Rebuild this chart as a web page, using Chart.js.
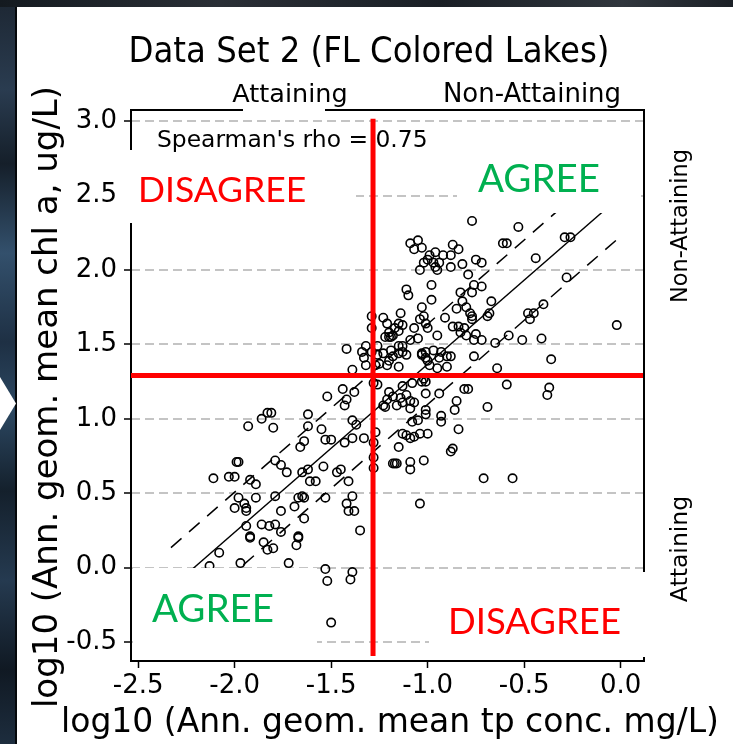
<!DOCTYPE html>
<html>
<head>
<meta charset="utf-8">
<title>Data Set 2 (FL Colored Lakes)</title>
<script src="https://cdn.jsdelivr.net/npm/chart.js@4.4.0/dist/chart.umd.min.js"></script>
<style>
  html, body { margin: 0; padding: 0; }
  body { width: 733px; height: 744px; overflow: hidden; position: relative; background: #fff; }
  .side {
    position: absolute; left: 0; top: 0; width: 15px; height: 744px;
    background: linear-gradient(180deg, #1d2733 0%, #2a3c50 12%, #151f2a 22%, #33506c 34%, #1e3044 46%,
                #2c4862 55%, #14202c 66%, #253a50 78%, #101923 90%, #1d2d3e 100%);
    border-right: 2px solid #05080b;
  }
  .topband {
    position: absolute; left: 0; top: 0; width: 733px; height: 7px;
    background: linear-gradient(90deg, #141a20 0%, #2a2f36 30%, #1a1f25 60%, #30363d 85%, #1c2127 100%);
  }
  .arrow {
    position: absolute; left: 0; top: 377px; width: 16px; height: 53px; background: #fff;
    clip-path: polygon(0 0, 100% 50%, 0 100%);
  }
  canvas { position: absolute; left: 0; top: 0; }
</style>
</head>
<body>
<div class="side"></div>
<div class="topband"></div>
<div class="arrow"></div>
<canvas id="myChart1" width="733" height="744"></canvas>
<script>
// log10 annual geometric mean TP (mg/L) for each lake-year
var tpLog = [
  -0.77, -0.53, -0.61, -0.59, -0.29, -0.26, -1.09, -1.05, -1.03, -1.07,
  -0.87, -0.84, -0.96, -0.99, -0.92, -0.88, -1.00, -1.02, -0.97, -0.94,
  -0.96, -0.95, -0.88, -1.04, -0.82, -0.75, -0.72, -0.79, -0.44, -0.98,
  -1.11, -1.10, -0.76, -0.72, -0.77, -0.28, -0.98, -1.03, -0.83, -0.82,
  -0.80, -0.85, -0.67, -0.68, -0.69, -0.78, -0.77, -0.77, -0.91, -1.02,
  -1.04, -1.14, -1.29, -1.23, -1.21, -1.01, -1.07, -1.00, -1.15, -1.13,
  -1.17, -1.20, -1.18, -1.20, -1.19, -1.22, -1.15, -0.95, -1.09, -1.05,
  -0.87, -0.84, -0.81, -0.83, -0.80, -0.76, -0.75, -0.72, -0.65, -1.42,
  -1.34, -1.26, -1.23, -1.19, -1.15, -1.13, -1.03, -0.97, -0.93, -0.88,
  -0.76, -1.29, -1.32, -1.33, -1.32, -1.39, -1.18, -1.15, -1.13, -1.11,
  -1.25, -1.21, -1.15, -1.20, -1.03, -1.01, -1.00, -0.99, -1.01, -0.94,
  -0.90, -0.95, -0.90, -0.64, -1.44, -1.42, -1.38, -1.28, -1.26, -1.13,
  -1.08, -1.20, -1.18, -1.21, -1.14, -1.11, -1.16, -1.13, -1.09, -1.07,
  -1.23, -1.22, -1.03, -1.01, -1.02, -0.94, -1.01, -1.09, -1.01, -0.85,
  -0.86, -0.81, -0.79, -0.69, -0.93, -0.93, -1.04, -1.00, -1.09, -1.11,
  -1.07, -1.13, -1.08, -0.84, -1.39, -1.43, -1.39, -1.33, -1.27, -1.15,
  -0.87, -0.88, -1.18, -1.17, -1.16, -1.09, -1.09, -1.02, -0.71, -1.28,
  -1.28, -1.45, -1.28, -1.04, -0.56, -1.35, -0.48, -0.45, -0.47, -0.40,
  -0.02, -0.58, -0.51, -0.41, -0.36, -0.59, -0.37, -0.38, -1.52, -1.43,
  -1.62, -1.83, -1.81, -1.86, -1.93, -1.80, -1.62, -1.55, -1.37, -1.53,
  -1.50, -1.64, -1.66, -1.99, -1.98, -1.79, -1.76, -1.73, -1.65, -1.62,
  -1.54, -1.47, -1.41, -1.39, -1.42, -1.41, -1.38, -2.11, -2.03, -2.00,
  -1.92, -1.89, -1.98, -1.89, -1.79, -2.00, -1.95, -1.94, -1.94, -1.67,
  -1.65, -1.64, -1.69, -1.76, -1.53, -1.94, -1.86, -1.82, -1.79, -1.76,
  -1.64, -1.92, -1.92, -1.85, -1.83, -1.80, -1.67, -1.67, -1.68, -2.08,
  -2.13, -1.97, -1.72, -1.53, -1.52, -1.39, -1.40, -1.50, -1.61, -1.58,
  -1.29, -1.26, -1.27, -1.05, -1.01
];
// log10 annual geometric mean chl a (ug/L), same order
var chlLog = [
  2.33, 2.29, 2.18, 2.18, 2.22, 2.22, 2.18, 2.20, 2.15, 2.14,
  2.17, 2.14, 2.12, 2.10, 2.10, 2.10, 2.07, 2.05, 2.05, 2.05,
  2.02, 2.00, 2.02, 2.00, 2.04, 2.07, 2.05, 1.97, 2.08, 1.90,
  1.87, 1.83, 1.90, 1.89, 1.85, 1.95, 1.80, 1.75, 1.85, 1.79,
  1.75, 1.74, 1.79, 1.71, 1.69, 1.71, 1.69, 1.67, 1.68, 1.69,
  1.67, 1.71, 1.69, 1.68, 1.64, 1.64, 1.61, 1.61, 1.64, 1.63,
  1.61, 1.58, 1.56, 1.55, 1.55, 1.55, 1.59, 1.56, 1.53, 1.54,
  1.62, 1.62, 1.61, 1.58, 1.56, 1.53, 1.57, 1.53, 1.51, 1.47,
  1.45, 1.49, 1.44, 1.46, 1.49, 1.49, 1.44, 1.46, 1.45, 1.42,
  1.42, 1.61, 1.49, 1.41, 1.36, 1.33, 1.42, 1.44, 1.45, 1.43,
  1.37, 1.36, 1.35, 1.39, 1.43, 1.45, 1.39, 1.36, 1.41, 1.41,
  1.35, 1.34, 1.42, 1.34, 1.20, 1.13, 1.18, 1.24, 1.23, 1.22,
  1.24, 1.18, 1.15, 1.13, 1.14, 1.16, 1.09, 1.11, 1.12, 1.11,
  1.09, 1.08, 1.25, 1.25, 1.27, 1.17, 1.17, 1.07, 1.06, 1.12,
  1.06, 1.20, 1.20, 1.08, 1.02, 0.98, 0.90, 0.90, 0.87, 0.89,
  0.88, 0.90, 0.98, 0.93, 0.99, 0.84, 0.87, 0.87, 0.91, 0.81,
  0.80, 0.78, 0.70, 0.70, 0.70, 0.71, 0.66, 0.72, 0.60, 0.67,
  0.74, 0.66, 0.84, 0.43, 0.60, 0.25, 1.71, 1.71, 1.67, 1.77,
  1.63, 1.56, 1.53, 1.54, 1.40, 1.23, 1.21, 1.16, 1.15, 1.09,
  1.03, 1.04, 1.04, 1.00, 0.95, 0.94, 0.95, 0.93, 0.96, 0.86,
  0.86, 0.85, 0.81, 0.71, 0.71, 0.72, 0.69, 0.64, 0.64, 0.66,
  0.68, 0.64, 0.58, 0.48, 0.43, 0.38, 0.38, 0.60, 0.61, 0.61,
  0.59, 0.56, 0.47, 0.47, 0.48, 0.40, 0.43, 0.40, 0.38, 0.47,
  0.48, 0.47, 0.41, 0.38, 0.47, 0.28, 0.29, 0.28, 0.29, 0.24,
  0.33, 0.21, 0.20, 0.17, 0.12, 0.13, 0.21, 0.20, 0.15, 0.10,
  0.01, 0.03, 0.03, -0.01, -0.09, -0.03, -0.08, -0.37, 0.58, 0.58,
  1.45, 1.43, 1.36, 0.99, 1.03
];

var xTicks = [-2.5, -2.0, -1.5, -1.0, -0.5, 0.0];
var yTicks = [-0.5, 0.0, 0.5, 1.0, 1.5, 2.0, 2.5, 3.0];

// fitted line with its upper and lower band
var fitIntercept = 2.497;
var fitSlope = 1.13;
var fitBand = 0.27;
var fitRange = [-2.33, -0.02];

// criteria (log10 TP, log10 chl a)
var tpLimit = -1.283;
var chlLimit = 1.291;
var rho = 0.75;

var points = tpLog.map(function (v, i) { return {x: v, y: chlLog[i]}; });
function fitLine(offset) {
  return fitRange.map(function (v) { return {x: v, y: fitIntercept + fitSlope * v + offset}; });
}

var FONT = '"DejaVu Sans", sans-serif';
var BIG = 'Lato, "DejaVu Sans", sans-serif';

function text(ctx, str, x, y, font, color, align, angle) {
  ctx.save();
  ctx.translate(x, y);
  if (angle) ctx.rotate(angle);
  ctx.font = font;
  ctx.fillStyle = color || '#000';
  ctx.textAlign = align || 'left';
  ctx.textBaseline = 'alphabetic';
  ctx.fillText(str, 0, 0);
  ctx.restore();
}

// frame, white label patches, quadrant labels and criteria lines
var quadrants = {
  id: 'quadrants',
  afterDatasetsDraw: function (chart) {
    var ctx = chart.ctx, a = chart.chartArea;
    var x = chart.scales.x, y = chart.scales.y;
    ctx.save();
    ctx.strokeStyle = '#000';
    ctx.lineWidth = 2;
    ctx.strokeRect(a.left, a.top, a.right - a.left, a.bottom - a.top);

    ctx.fillStyle = '#fff';
    ctx.fillRect(243, 103, 82, 13);    // under "Attaining"
    ctx.fillRect(121, 150, 235, 73);   // DISAGREE, top left
    ctx.fillRect(457, 150, 184, 63);   // AGREE, top right
    ctx.fillRect(133, 568, 184, 89);   // AGREE, bottom left
    ctx.fillRect(429, 572, 223, 85);   // DISAGREE, bottom right
    ctx.restore();

    text(ctx, "Spearman's rho = " + rho.toFixed(2), 157, 147, '23.4px ' + FONT);
    text(ctx, 'DISAGREE', 138, 202, '35.5px ' + BIG, '#ff0000');
    text(ctx, 'AGREE', 478, 192, '38.5px ' + BIG, '#00b050');
    text(ctx, 'AGREE', 152, 622, '38.5px ' + BIG, '#00b050');
    text(ctx, 'DISAGREE', 448, 634, '36.5px ' + BIG, '#ff0000');

    // criteria lines
    ctx.save();
    ctx.strokeStyle = '#ff0000';
    ctx.lineWidth = 5;
    ctx.beginPath();
    var px = x.getPixelForValue(tpLimit);
    ctx.moveTo(px, y.getPixelForValue(3.017));
    ctx.lineTo(px, y.getPixelForValue(-0.594));
    var py = y.getPixelForValue(chlLimit);
    ctx.moveTo(a.left, py);
    ctx.lineTo(a.right - 1, py);
    ctx.stroke();
    ctx.restore();
  },
  afterDraw: function (chart) {
    var ctx = chart.ctx;
    text(ctx, 'Data Set 2 (FL Colored Lakes)', 369, 62, '36px "DejaVu Sans Condensed", ' + FONT, '#000', 'center');
    text(ctx, 'Attaining', 290, 102, '25.5px ' + FONT, '#000', 'center');
    text(ctx, 'Non-Attaining', 532, 102, '26px ' + FONT, '#000', 'center');
    text(ctx, 'Non-Attaining', 687, 226, '22.5px ' + FONT, '#000', 'center', -Math.PI / 2);
    text(ctx, 'Attaining', 687, 549, '23.5px ' + FONT, '#000', 'center', -Math.PI / 2);
    text(ctx, 'log10 (Ann. geom. mean tp conc. mg/L)', 390, 732, '33px ' + FONT, '#000', 'center');
    text(ctx, 'log10 (Ann. geom. mean chl a, ug/L)', 57, 397, '34px ' + FONT, '#000', 'center', -Math.PI / 2);
  }
};

var ctx = document.getElementById('myChart1');
var myChart = new Chart(ctx, {
  type: 'scatter',
  data: {
    datasets: [
      {
        data: points,
        pointStyle: 'circle',
        pointRadius: 4.2,
        pointBorderWidth: 1.6,
        borderColor: '#000',
        backgroundColor: 'rgba(0,0,0,0)',
        pointBackgroundColor: 'rgba(0,0,0,0)',
        pointBorderColor: '#000'
      },
      {
        data: fitLine(0),
        showLine: true, pointRadius: 0,
        borderColor: '#000', borderWidth: 1.5
      },
      {
        data: fitLine(fitBand),
        showLine: true, pointRadius: 0,
        borderColor: '#000', borderWidth: 1.5, borderDash: [14, 10]
      },
      {
        data: fitLine(-fitBand),
        showLine: true, pointRadius: 0,
        borderColor: '#000', borderWidth: 1.5, borderDash: [14, 10]
      }
    ]
  },
  options: {
    responsive: false,
    animation: false,
    events: [],
    layout: { padding: { left: 0, top: 110, right: 89, bottom: 0 } },
    plugins: { legend: { display: false }, tooltip: { enabled: false }, title: { display: false } },
    scales: {
      x: {
        type: 'linear',
        min: -2.537,
        max: 0.121,
        afterBuildTicks: function (axis) { axis.ticks = xTicks.map(function (v) { return {value: v}; }); },
        afterFit: function (axis) { axis.height = 83; },
        grid: { drawOnChartArea: false, drawTicks: true, tickLength: 7, tickColor: '#000', tickWidth: 1.5 },
        border: { display: false },
        ticks: {
          color: '#000', padding: 3, autoSkip: false, maxRotation: 0,
          font: { family: 'DejaVu Sans', size: 26 },
          callback: function (v) { return v.toFixed(1); }
        }
      },
      y: {
        type: 'linear',
        min: -0.628,
        max: 3.076,
        afterBuildTicks: function (axis) { axis.ticks = yTicks.map(function (v) { return {value: v}; }); },
        afterFit: function (axis) { axis.width = 131; },
        grid: {
          color: '#c4c4c4', lineWidth: 2,
          tickLength: 7, tickColor: '#000', tickWidth: 1.5, tickBorderDash: []
        },
        border: { display: false, dash: [9, 5] },
        ticks: {
          color: '#000', padding: 7, autoSkip: false,
          font: { family: 'DejaVu Sans', size: 26 },
          callback: function (v) { return v.toFixed(1); }
        }
      }
    }
  },
  plugins: [quadrants]
});
</script>
</body>
</html>
